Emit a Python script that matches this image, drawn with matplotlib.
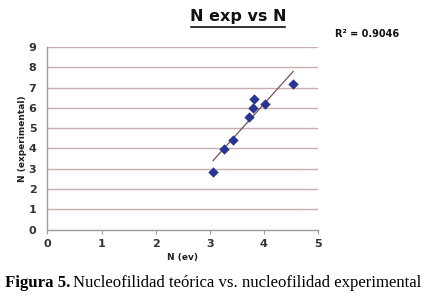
import numpy as np
import matplotlib
matplotlib.use("Agg")
import matplotlib.pyplot as plt

n_ev = [3.06, 3.26, 3.43, 3.73, 3.80, 3.82, 4.02, 4.54]
n_exp = [2.82, 3.97, 4.43, 5.54, 5.98, 6.43, 6.20, 7.18]
x_ticks = [0, 1, 2, 3, 4, 5]
y_ticks = [0, 1, 2, 3, 4, 5, 6, 7, 8, 9]
r2_label = "R² = 0.9046"
title = "N exp vs N"
xlabel = "N (ev)"
ylabel = "N (experimental)"

fig = plt.figure(figsize=(4.27, 2.97), dpi=100)
fig.patch.set_facecolor("white")
ax = fig.add_axes([47.5/427, 1-229.5/297, (318-47.5)/427, (229.5-47)/297])

ax.set_xlim(0, 5)
ax.set_ylim(0, 9)
ax.set_xticks(x_ticks)
ax.set_yticks(y_ticks)
for y in y_ticks[1:]:
    ax.axhline(y, color="#c9aeae", lw=1.0, zorder=1)
for s in ["top", "right"]:
    ax.spines[s].set_visible(False)
for s in ["left", "bottom"]:
    ax.spines[s].set_color("#a09a9a")
    ax.spines[s].set_linewidth(1.0)
ax.tick_params(axis="x", length=3, color="#a09a9a", labelsize=8, pad=4)
ax.tick_params(axis="y", length=0, labelsize=8, pad=8)
for lab in ax.get_xticklabels() + ax.get_yticklabels():
    lab.set_fontweight("bold")
    lab.set_color("#333333")

# trendline
coef = np.polyfit(n_ev, n_exp, 1)
xs = np.array([min(n_ev), max(n_ev)])
ax.plot(xs, np.polyval(coef, xs), color="#7a5050", lw=0.9, zorder=2)
ax.scatter(n_ev, n_exp, marker="D", s=28, color="#283593", zorder=3, linewidths=0)

ax.set_xlabel(xlabel, fontsize=6.5, fontweight="bold", labelpad=3, color="#222222")
ax.set_ylabel(ylabel, fontsize=6.5, fontweight="bold", labelpad=1, color="#222222")

fig.text(238/427, 1-17/297, title, fontsize=11.5, fontweight="bold", ha="center", va="center",
         color="#111111")
# underline title
fig.add_artist(plt.Line2D([191/427, 285/427], [1-27/297, 1-27/297], color="#111111", lw=1.2))
fig.text(367/427, 1-34/297, r2_label, fontsize=7, fontweight="bold", ha="center", va="center",
         color="#111111")

t1 = fig.text(5/427, 1-283/297, "Figura 5.", fontsize=12.1, fontweight="bold", ha="left",
              va="center", family="Liberation Serif")
fig.canvas.draw()
bb = t1.get_window_extent()
fig.text((bb.x1 + 3)/fig.bbox.width, 1-283/297,
         "Nucleofilidad teórica vs. nucleofilidad experimental", fontsize=12.1, ha="left",
         va="center", family="Liberation Serif")

fig.savefig("out.png", dpi=100, facecolor="white")
